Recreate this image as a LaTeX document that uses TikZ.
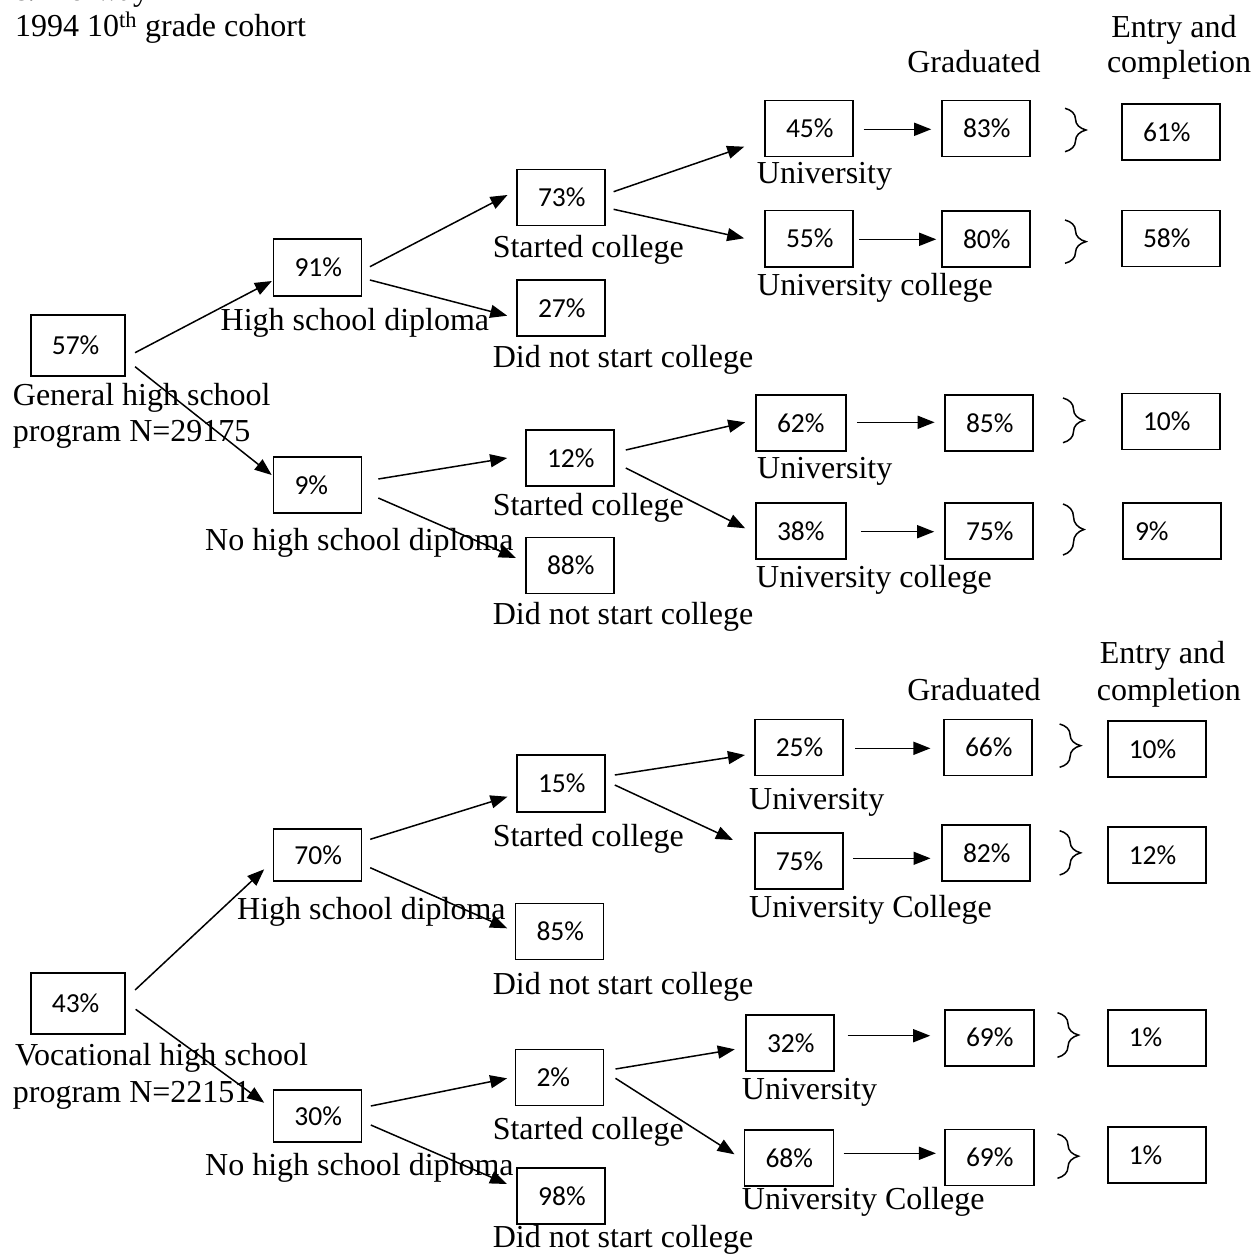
\documentclass[tikz,border=0pt]{standalone}
\usepackage{fontspec}
\setmainfont{Liberation Serif}
\newfontfamily\pctfont{Carlito}
\usetikzlibrary{arrows.meta,calc,decorations.pathreplacing}
\begin{document}
\begin{tikzpicture}[x=1pt,y=-1pt,
  pb/.style={draw, line width=1.6pt, font=\pctfont\fontsize{27.5}{30}\selectfont,
    inner xsep=21pt, inner ysep=0pt, text width=46pt, align=left, minimum height=56pt},
  lbl/.style={anchor=base west, inner sep=0pt, font=\fontsize{32}{36.8}\selectfont},
  hdr/.style={anchor=base, inner sep=0pt, font=\fontsize{32}{36.8}\selectfont},
  arr/.style={line width=1.5pt, -{Triangle[length=17pt,width=13pt]}},
  brc/.style={line width=1.5pt, decorate, decoration={brace, amplitude=21pt}}
]
\useasboundingbox (0,0) rectangle (1253,1257);

% ---------- headings ----------
\node[lbl] (tnor) at (13,0.5) {c. Norway};
\node[lbl] (tcoh) at (15,37) {1994 10\textsuperscript{th} grade cohort};
\node[hdr] (tgr1) at (974,73) {Graduated};
\node[hdr] (ten1) at (1174,38) {Entry and};
\node[hdr] (tco1) at (1179,73) {completion};

% ---------- general programme ----------
\node[pb, text width=52pt, minimum height=61pt] (a57) at (77.85,345.5) {57\%};
\node[pb, minimum height=57pt] (a91) at (317.5,267.5) {91\%};
\node[pb] (a73) at (561,197.5) {73\%};
\node[pb] (a27) at (561,308) {27\%};
\node[pb] (a45) at (809,128.5) {45\%};
\node[pb] (a83) at (986,128.5) {83\%};
\node[pb, text width=56pt] (a61) at (1171,132) {61\%};
\node[pb] (a55) at (809,238.7) {55\%};
\node[pb] (a80) at (986,239) {80\%};
\node[pb, text width=56pt] (a58) at (1171,238.5) {58\%};
\node[pb] (a9) at (317.5,485) {9\%};
\node[pb] (a12) at (570,458) {12\%};
\node[pb] (a88) at (570,565.5) {88\%};
\node[pb, text width=48pt] (a62) at (801,423) {62\%};
\node[pb] (a85) at (989,423) {85\%};
\node[pb, text width=56pt] (a10) at (1171,421.5) {10\%};
\node[pb, text width=48pt] (a38) at (801,531) {38\%};
\node[pb] (a75) at (989,531) {75\%};
\node[pb, text width=74pt, inner xsep=12pt] (a9r) at (1172,531) {9\%};

\node[lbl] (tgen1) at (12.7,405.5) {General high school};
\node[lbl] (tgen2) at (12.7,441.5) {program N=29175};
\node[lbl] (thsd1) at (220.5,330.7) {High school diploma};
\node[lbl] (tsc1) at (492.6,257.3) {Started college};
\node[lbl] (tdn1) at (492.6,367) {Did not start college};
\node[lbl] (tun1) at (756.7,184) {University};
\node[lbl] (tuc1) at (757,295) {University college};
\node[lbl] (tnhs1) at (205,550.7) {No high school diploma};
\node[lbl] (tsc2) at (492.6,515) {Started college};
\node[lbl] (tdn2) at (492.6,624) {Did not start college};
\node[lbl] (tun2) at (757,478) {University};
\node[lbl] (tuc2) at (756,587) {University college};

\draw[arr] ($(a57.east)+(9.4,7.2)$) -- ($(a91.west)+(-0.8,13.5)$);
\draw[arr] ($(a57.east)+(9.4,21.2)$) -- ($(a9.west)+(-1,-10)$);
\draw[arr] ($(a91.east)+(7.6,-0.8)$) -- ($(a73.west)+(-8.7,-2.5)$);
\draw[arr] ($(a91.east)+(7.6,12.5)$) -- ($(a27.west)+(-9,7.7)$);
\draw[arr] ($(a9.east)+(16,-6)$) -- ($(a12.west)+(-18,0)$);
\draw[arr] ($(a9.east)+(16,13)$) -- ($(a88.west)+(-9.3,-7.5)$);
\draw[arr] ($(a73.east)+(7.8,-5.8)$) -- ($(a45.west)+(-20,18.2)$);
\draw[arr] ($(a73.east)+(7.8,11.8)$) -- ($(a55.west)+(-20,-0.4)$);
\draw[arr] ($(a45.east)+(9.7,0.8)$) -- ($(a83.west)+(-10,0.8)$);
\draw[arr] ($(a55.east)+(5,0.6)$) -- ($(a80.west)+(-5,0.3)$);
\draw[arr] ($(a12.east)+(11,-8)$) -- ($(a62.west)+(-10,-0.7)$);
\draw[arr] ($(a12.east)+(11,10)$) -- ($(a38.west)+(-10,-2.7)$);
\draw[arr] ($(a62.east)+(10,-0.7)$) -- ($(a85.west)+(-9.6,-0.7)$);
\draw[arr] ($(a38.east)+(14,0.7)$) -- ($(a75.west)+(-10,0.7)$);

\draw[brc] (1065,108.3) -- (1065,151.7);
\draw[brc] (1065,220) -- (1065,263.3);
\draw[brc] (1063,398) -- (1063,442.7);
\draw[brc] (1063,504) -- (1063,555);

% ---------- vocational programme ----------
\node[hdr] (tgr2) at (974,700) {Graduated};
\node[hdr] (ten2) at (1162.5,663) {Entry and};
\node[hdr] (tco2) at (1168.8,700) {completion};

\node[pb, text width=52pt, minimum height=61pt] (b43) at (77.85,1003.3) {43\%};
\node[pb, minimum height=52pt] (b70) at (317.4,855) {70\%};
\node[pb, minimum height=57pt] (b15) at (561,783.3) {15\%};
\node[pb] (b85) at (559.5,931.3) {85\%};
\node[pb] (b25) at (798.75,747.5) {25\%};
\node[pb] (b66) at (988,747.5) {66\%};
\node[pb, text width=56pt] (b10) at (1156.75,749) {10\%};
\node[pb] (b75) at (798.75,860.8) {75\%};
\node[pb] (b82) at (986,853) {82\%};
\node[pb, text width=56pt] (b12) at (1156.75,855) {12\%};
\node[pb, minimum height=52pt] (b30) at (317.4,1116) {30\%};
\node[pb] (b2) at (559.5,1077.5) {2\%};
\node[pb] (b98) at (561.2,1196) {98\%};
\node[pb] (b32) at (790,1043) {32\%};
\node[pb, text width=47pt] (b69) at (989.5,1037.7) {69\%};
\node[pb, text width=56pt] (b1) at (1156.75,1037.7) {1\%};
\node[pb, text width=47pt] (b68) at (789,1158) {68\%};
\node[pb, text width=47pt] (b69b) at (989.5,1157.5) {69\%};
\node[pb, text width=56pt] (b1b) at (1156.75,1155) {1\%};

\node[lbl] (tvoc1) at (15,1065.7) {Vocational high school};
\node[lbl] (tvoc2) at (12.7,1102.5) {program N=22151};
\node[lbl] (thsd2) at (237,919) {High school diploma};
\node[lbl] (tsc3) at (492.6,846.3) {Started college};
\node[lbl] (tdn3) at (492.6,994) {Did not start college};
\node[lbl] (tun3) at (749,809) {University};
\node[lbl] (tuc3) at (749,917.3) {University College};
\node[lbl] (tnhs2) at (205,1175.7) {No high school diploma};
\node[lbl] (tsc4) at (492.6,1139) {Started college};
\node[lbl] (tdn4) at (492.6,1247.3) {Did not start college};
\node[lbl] (tun4) at (741.7,1099) {University};
\node[lbl] (tuc4) at (741.7,1209) {University College};

\draw[arr] ($(b43.east)+(9.4,-13.3)$) -- ($(b70.west)+(-8.4,14.3)$);
\draw[arr] ($(b43.east)+(10,6)$) -- ($(b30.west)+(-8.4,-13.3)$);
\draw[arr] ($(b70.east)+(8,-15.7)$) -- ($(b15.west)+(-8.7,13.4)$);
\draw[arr] ($(b70.east)+(8,12.7)$) -- ($(b85.west)+(-7.6,-3)$);
\draw[arr] ($(b15.east)+(9,-8.3)$) -- ($(b25.west)+(-9,7.5)$);
\draw[arr] ($(b15.east)+(9,1.7)$) -- ($(b75.west)+(-21,-20.8)$);
\draw[arr] ($(b30.east)+(8.6,-10)$) -- ($(b2.west)+(-7.6,0.8)$);
\draw[arr] ($(b30.east)+(8.6,9)$) -- ($(b98.west)+(-9.4,-12)$);
\draw[arr] ($(b2.east)+(11.2,-8.5)$) -- ($(b32.west)+(-10.4,6.3)$);
\draw[arr] ($(b2.east)+(11.2,0.8)$) -- ($(b68.west)+(-9.2,-3.7)$);
\draw[arr] ($(b25.east)+(11.5,0.8)$) -- ($(b66.west)+(-12.75,0.8)$);
\draw[arr] ($(b75.east)+(9.5,-2.5)$) -- ($(b82.west)+(-10.7,5.3)$);
\draw[arr] ($(b32.east)+(12.7,-7.3)$) -- ($(b69.west)+(-14,-2)$);
\draw[arr] ($(b68.east)+(9.2,-4.7)$) -- ($(b69b.west)+(-8.3,-4.2)$);

\draw[brc] (1059.6,724) -- (1059.6,767.3);
\draw[brc] (1059.6,830.7) -- (1059.6,875);
\draw[brc] (1057.5,1012.7) -- (1057.5,1057.3);
\draw[brc] (1057.5,1134) -- (1057.5,1178.3);
\end{tikzpicture}
\end{document}
